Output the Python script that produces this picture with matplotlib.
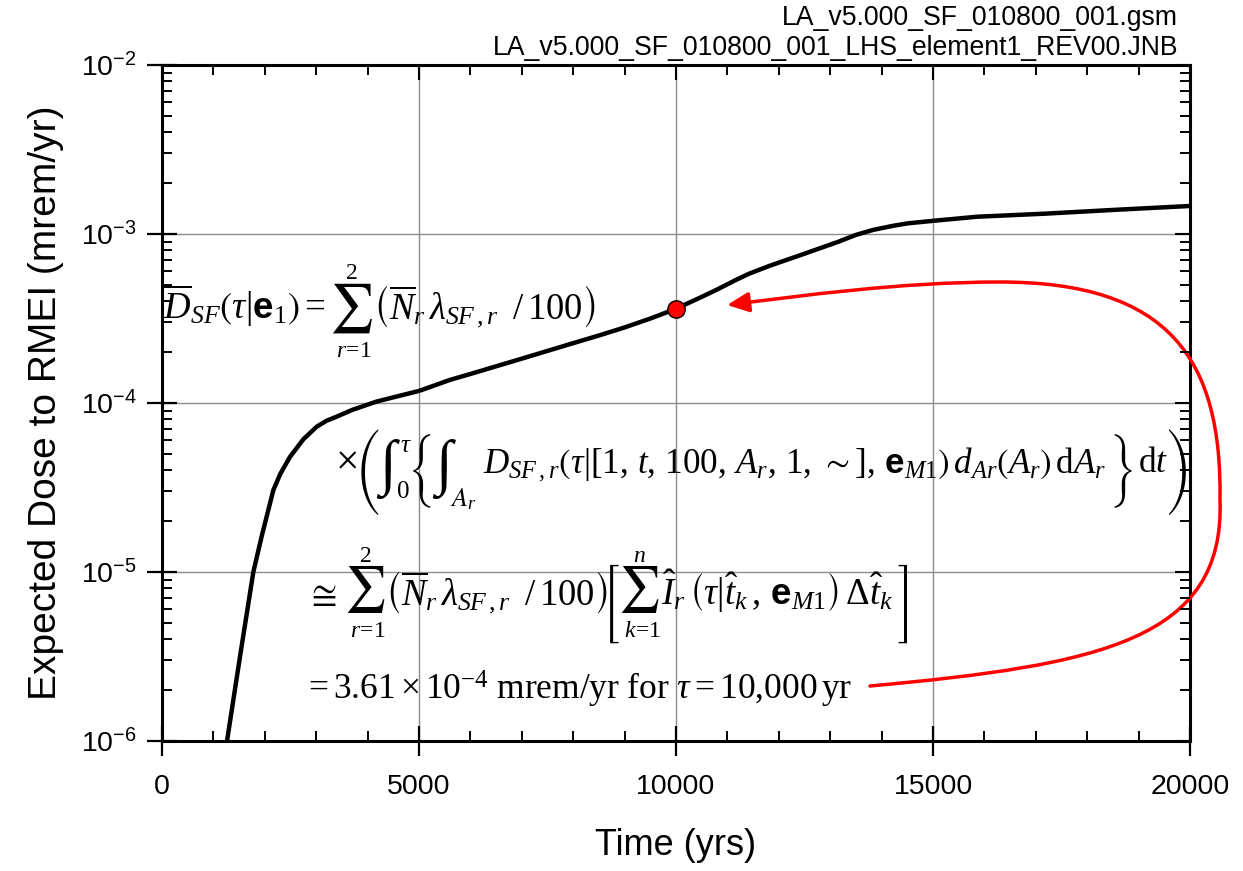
import numpy as np
import matplotlib
matplotlib.use("Agg")
import matplotlib.pyplot as plt
from matplotlib.path import Path
from matplotlib.patches import FancyArrowPatch
from matplotlib.textpath import TextPath
from matplotlib.font_manager import FontProperties
from matplotlib.ticker import FixedLocator, LogLocator, FuncFormatter, MultipleLocator, NullFormatter

# ---------------- data ----------------
time_yrs = [1265, 1517, 1777, 1938, 2166, 2300, 2490, 2750, 3010, 3200, 3398, 3700,
            4176, 4500, 5006, 5603, 6000, 7000, 8000, 8521, 9000, 9500, 10000,
            10467, 10804, 11140, 11409, 11813, 12486, 13160, 13496, 13833, 14237,
            14506, 15045, 15852, 17198, 18540, 20000]
dose = [1.0e-6, 3.15e-6, 1.0e-5, 1.62e-5, 3.05e-5, 3.8e-5, 4.8e-5, 6.1e-5, 7.24e-5,
        7.85e-5, 8.3e-5, 9.1e-5, 1.02e-4, 1.08e-4, 1.18e-4, 1.37e-4, 1.485e-4,
        1.83e-4, 2.26e-4, 2.52e-4, 2.8e-4, 3.16e-4, 3.61e-4, 4.2e-4, 4.7e-4,
        5.3e-4, 5.8e-4, 6.47e-4, 7.62e-4, 9.0e-4, 9.87e-4, 1.057e-3, 1.12e-3,
        1.156e-3, 1.2e-3, 1.265e-3, 1.32e-3, 1.39e-3, 1.465e-3]
marker_time = [10000]
marker_dose = [3.61e-4]
x_ticks = [0, 5000, 10000, 15000, 20000]
y_ticks = [1e-6, 1e-5, 1e-4, 1e-3, 1e-2]
title_lines = ["LA_v5.000_SF_010800_001.gsm",
               "LA_v5.000_SF_010800_001_LHS_element1_REV00.JNB"]
x_label = "Time (yrs)"
y_label = "Expected Dose to RMEI (mrem/yr)"

# ---------------- style ----------------
plt.rcParams['font.family'] = ['Liberation Sans', 'DejaVu Sans']
plt.rcParams['mathtext.fontset'] = 'custom'
plt.rcParams['mathtext.rm'] = 'Liberation Serif'
plt.rcParams['mathtext.it'] = 'Liberation Serif:italic'
plt.rcParams['mathtext.bf'] = 'Liberation Sans:bold'
plt.rcParams['mathtext.sf'] = 'Liberation Sans'
plt.rcParams['mathtext.cal'] = 'STIXGeneral:italic'
plt.rcParams['mathtext.fallback'] = 'stix'

W, H = 1243, 871
fig = plt.figure(figsize=(W / 100, H / 100), dpi=100)
L, R, T, B = 162, 1190, 65, 741
rect = [L / W, 1 - B / H, (R - L) / W, (B - T) / H]
ax = fig.add_axes(rect)

ax.plot(time_yrs, dose, color='black', lw=3.2, solid_capstyle='butt', zorder=3)
ax.plot(marker_time, marker_dose, 'o', color='red', mec='black', mew=1.0, ms=12.5, zorder=4)

ax.set_yscale('log')
ax.set_xlim(0, 20000)
ax.set_ylim(1e-6, 1e-2)
ax.xaxis.set_major_locator(FixedLocator(x_ticks))
ax.xaxis.set_minor_locator(MultipleLocator(1000))
ax.yaxis.set_major_locator(FixedLocator(y_ticks))
ax.yaxis.set_minor_locator(LogLocator(base=10, subs=np.arange(2, 10)))
ax.yaxis.set_minor_formatter(NullFormatter())


def yfmt(v, p):
    e = int(round(np.log10(v)))
    return r'$\mathsf{10^{\mathsf{%d}}}$' % e


ax.yaxis.set_major_formatter(FuncFormatter(yfmt))
ax.xaxis.set_major_formatter(FuncFormatter(lambda v, p: '%d' % v))

ax.grid(True, which='major', color='#8c8c8c', lw=1.0)
for s in ax.spines.values():
    s.set_linewidth(2.2)
ax.tick_params(which='major', direction='inout', length=22, width=1.6,
               top=False, right=False, labelsize=20.5)
ax.tick_params(which='minor', direction='in', length=7.5, width=1.4,
               top=False, right=False)
ax.tick_params(axis='x', which='major', pad=13)
ax.tick_params(axis='y', which='major', pad=7)

# top / right inward ticks
ax2 = fig.add_axes(rect, sharex=ax, sharey=ax, frameon=False)
ax2.tick_params(which='both', direction='in', bottom=False, left=False, top=True, right=True,
                labelbottom=False, labelleft=False, width=1.5)
ax2.tick_params(which='major', length=11)
ax2.tick_params(which='minor', length=7.5, width=1.4)
ax2.patch.set_visible(False)

ax.set_xlabel(x_label, fontsize=26, labelpad=20)
ax.set_ylabel(y_label, fontsize=28, labelpad=12)

# title lines
fig.text(1178 / W, 1 - 18 / H, title_lines[0], ha='right', va='center', fontsize=19.2)
fig.text(1178 / W, 1 - 48 / H, title_lines[1], ha='right', va='center', fontsize=19.2)

# ---------------- formula (text pieces laid out in pixel space) ----------------
ov = fig.add_axes([0, 0, 1, 1], zorder=10)
ov.set_xlim(0, W)
ov.set_ylim(H, 0)
ov.axis('off')
rdr = fig.canvas.get_renderer()
FL = 17


def put(x, yb, s, fs, family=None, ha='left'):
    kw = {} if family is None else {'family': family}
    t = ov.text(x, yb, s, fontsize=fs, va='baseline', ha=ha, **kw)
    return t.get_window_extent(rdr).width


def measure(s, fs):
    t = ov.text(0, 0, s, fontsize=fs)
    w = t.get_window_extent(rdr).width
    t.remove()
    return w


def ink(ch, family, h):
    fam = [family, 'STIXGeneral']
    e = TextPath((0, 0), ch, size=100, prop=FontProperties(family=fam)).get_extents()
    return fam, e, h / e.height


def big(xl, yc, ch, family, h):
    fam, e, s = ink(ch, family, h)
    fs = 100 * s * 0.72
    ov.text(xl - e.x0 * s, yc + (e.y0 + e.y1) / 2 * s, ch, fontsize=fs, family=fam,
            va='baseline', ha='left')
    return xl + e.width * s, xl + e.width * s / 2


def bigsum(xl, yc, h, up, low):
    xr, cx = big(xl, yc, '\u2211', 'STIXGeneral', h)
    put(cx, yc - h / 2 - 4, up, FL, ha='center')
    put(cx + 3, yc + h / 2 + 24, low, FL, ha='center')
    return xr


paren_sum = r'$\left(\overline{N}_r\,\lambda_{SF\,,r}\;\;/\,100\right)$'

# line 1
F1 = 26.5
yb = 319
x = 163
x += put(x, yb, r'$\overline{D}_{SF}\left(\tau|\mathbf{e}_1\right)=$', F1) + 6
x = bigsum(x, 308, 50, r'$2$', r'$r\!=\!1$') + 2
put(x, yb, paren_sum, F1)

# line 2
yb = 472
put(335, yb, r'$\times$', 30)
big(361, 473, '(', 'STIXSizeFourSym', 85)
x, _ = big(376, 469, '\u222B', 'Liberation Serif', 60)
wt = put(x + 1, 452, r'$\tau$', FL + 1)
w0 = put(x - 3, 498, r'$0$', FL + 1)
xb = max(x + 1 + wt, x - 3 + w0) + 1
x, _ = big(xb, 471, '{', 'STIXSizeThreeSym', 73)
x, _ = big(x + 2, 469, '\u222B', 'Liberation Serif', 60)
wa = put(x - 5, 506, r'$\mathcal{A}_r$', FL + 2)
x_in = max(483, x - 5 + wa + 6)

# right-hand closing pieces, anchored to the reference's right end
fam, e, s = ink(')', 'STIXSizeFourSym', 85)
pr_left = 1186 - e.width * s
big(pr_left, 473, ')', 'STIXSizeFourSym', 85)
wdt = put(pr_left - 1, yb, r'$\mathrm{d}t$', 25.5, ha='right')
fam, e, s = ink('}', 'STIXSizeThreeSym', 73)
br_left = pr_left - 1 - wdt - 7 - e.width * s
big(br_left, 471, '}', 'STIXSizeThreeSym', 73)

inline2 = (r'$D_{SF\,,r}\left(\tau|[1,\,t,\,100,\,A_r,\,1,\,\sim],\,\mathbf{e}_{M1}\right)\,'
           r'd_{Ar}\left(A_r\right)\,\mathrm{d}A_r$')
w25 = measure(inline2, 25)
F2 = min(26.5, max(23.0, 25 * (br_left - 6 - x_in) / w25))
put(x_in, yb, inline2, F2)

# line 3
F3 = 26.5
yb = 605
x = 306
x += put(x, yb, r'$\cong$', F3) + 10
x = bigsum(x, 589, 47, r'$2$', r'$r\!=\!1$') + 2
x += put(x, yb, paren_sum, F3) + 2
x, _ = big(x, 604, '[', 'STIXSizeThreeSym', 78)
x = bigsum(x + 3, 589, 47, r'$n$', r'$k\!=\!1$') + 3
x += put(x, yb, r'$\hat{I}_r\,\left(\tau|\hat{t}_k\,,\,\mathbf{e}_{M1}\right)\,\Delta\hat{t}_k$', F3) + 4
big(x, 604, ']', 'STIXSizeThreeSym', 78)

# line 4
put(303, 700, r'$=3.61\times10^{\mathrm{-4}}\ \mathrm{mrem/yr}\ \mathrm{for}\ \tau=10{,}000\,\mathrm{yr}$', 25.5)

# red curved arrow (pixel geometry -> axes fraction)
def px(x, y):
    return ((x - L) / (R - L), (B - y) / (B - T))

verts = [px(870, 686), px(1100, 665), px(1225, 640), px(1220, 500),
         px(1222, 360), px(1170, 282), px(1000, 282),
         px(900, 282), px(800, 296), px(727, 305)]
codes = [Path.MOVETO] + [Path.CURVE4] * 9
arrow = FancyArrowPatch(path=Path(verts, codes), arrowstyle='-|>,head_length=1.1,head_width=0.5',
                        mutation_scale=12, color='red', lw=2.5,
                        transform=ax.transAxes, clip_on=False, zorder=5)
ax.add_patch(arrow)

fig.savefig('out.png', dpi=100)
